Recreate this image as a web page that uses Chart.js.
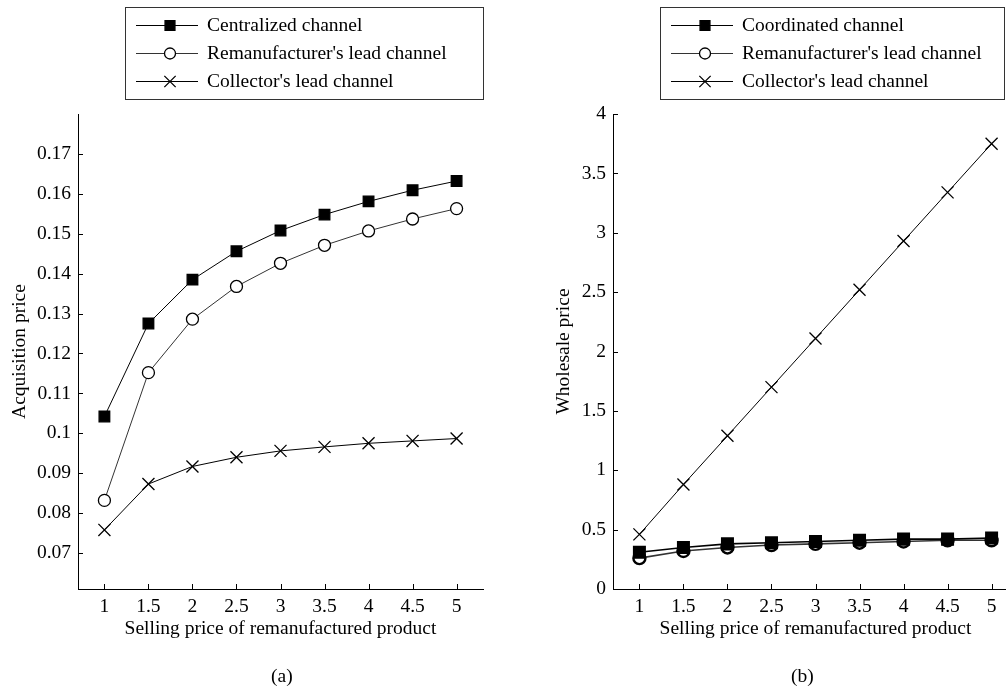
<!DOCTYPE html>
<html>
<head>
<meta charset="utf-8">
<script src="https://cdn.jsdelivr.net/npm/chart.js@4/dist/chart.umd.min.js"></script>
<style>
  html, body { margin: 0; padding: 0; background: #fff; overflow: hidden; width: 1006px; height: 691px; }
  canvas { position: absolute; top: 0; }
  #chart-a { left: 0; }
  #chart-b { left: 520px; }
  .caption { position: absolute; top: 665px; font: 19.5px 'Liberation Serif', serif; color: #000; }
</style>
</head>
<body>
<canvas id="chart-a" width="500" height="691"></canvas>
<canvas id="chart-b" width="520" height="691"></canvas>
<div class="caption" style="left:271px">(a)</div>
<div class="caption" style="left:791px">(b)</div>
<script>
// selling price of remanufactured product
const sellingPrice = [1, 1.5, 2, 2.5, 3, 3.5, 4, 4.5, 5];

// (a) acquisition price
const acqCentralized = [0.1042, 0.1275, 0.1385, 0.1456, 0.1508, 0.1548, 0.1581, 0.1609, 0.1632];
const acqRemanLead = [0.0832, 0.1152, 0.1286, 0.1368, 0.1426, 0.1471, 0.1507, 0.1537, 0.1563];
const acqCollectorLead = [0.0758, 0.0873, 0.0917, 0.0940, 0.0956, 0.0966, 0.0975, 0.0981, 0.0987];
const acqTicks = [0.07, 0.08, 0.09, 0.1, 0.11, 0.12, 0.13, 0.14, 0.15, 0.16, 0.17];

// (b) wholesale price
const wsCoordinated = [0.31, 0.35, 0.38, 0.39, 0.40, 0.41, 0.42, 0.42, 0.43];
const wsRemanLead = [0.26, 0.32, 0.35, 0.37, 0.38, 0.39, 0.40, 0.41, 0.41];
const wsCollectorLead = [0.46, 0.88, 1.29, 1.70, 2.11, 2.52, 2.93, 3.34, 3.75];
const wsTicks = [0, 0.5, 1, 1.5, 2, 2.5, 3, 3.5, 4];

const FONT = 'Liberation Serif';
const FSIZE = 19.5;

function toPoints(ys) {
    return sellingPrice.map((x, i) => ({ x: x, y: ys[i] }));
}

const markerStyles = [
    { pointStyle: 'rect', pointRadius: 7.5, pointBackgroundColor: '#000', pointBorderColor: '#000', borderColor: '#000' },
    { pointStyle: 'circle', pointRadius: 6, pointBackgroundColor: '#fff', pointBorderColor: '#000', borderColor: '#333' },
    { pointStyle: 'crossRot', pointRadius: 8.5, pointBackgroundColor: '#000', pointBorderColor: '#000', borderColor: '#000' }
];

// bold = heavier markers and lines for the two flat series (panel b)
function makeDatasets(labels, series, bold) {
    return series.map((ys, i) => Object.assign({
        label: labels[i],
        data: toPoints(ys),
        borderWidth: bold && i < 2 ? 1.6 : 1,
        pointBorderWidth: bold && i < 2 ? 2.4 : 1.3,
        tension: 0
    }, markerStyles[i]));
}

// inward tick marks
const innerTicks = {
    id: 'innerTicks',
    afterDraw(chart) {
        const ctx = chart.ctx;
        const { left, bottom } = chart.chartArea;
        ctx.save();
        ctx.strokeStyle = '#000';
        ctx.lineWidth = 1;
        ctx.beginPath();
        chart.scales.x.ticks.forEach(t => {
            const px = Math.round(chart.scales.x.getPixelForValue(t.value)) + 0.5;
            ctx.moveTo(px, bottom);
            ctx.lineTo(px, bottom - 5);
        });
        chart.scales.y.ticks.forEach(t => {
            const py = Math.round(chart.scales.y.getPixelForValue(t.value)) + 0.5;
            ctx.moveTo(left, py);
            ctx.lineTo(left + 5, py);
        });
        ctx.stroke();
        ctx.restore();
    }
};

// boxed legend with line + marker samples
const boxLegend = {
    id: 'boxLegend',
    afterDraw(chart, args, opts) {
        const ctx = chart.ctx;
        ctx.save();
        ctx.strokeStyle = '#333';
        ctx.lineWidth = 1;
        ctx.strokeRect(opts.x + 0.5, opts.y + 0.5, opts.w, opts.h);
        ctx.font = FSIZE + 'px "' + FONT + '"';
        ctx.textBaseline = 'middle';
        chart.data.datasets.forEach((ds, i) => {
            const y = opts.y + 18 + i * 28;
            ctx.strokeStyle = ds.borderColor;
            ctx.lineWidth = 1;
            ctx.beginPath();
            ctx.moveTo(opts.x + 11, y + 0.5);
            ctx.lineTo(opts.x + 73, y + 0.5);
            ctx.stroke();
            ctx.strokeStyle = '#000';
            ctx.fillStyle = ds.pointBackgroundColor;
            ctx.lineWidth = 1.3;
            const r = ds.pointStyle === 'rect' ? 7 : ds.pointStyle === 'circle' ? 5.5 : 8;
            Chart.helpers.drawPoint(ctx, { pointStyle: ds.pointStyle, radius: r, rotation: 0, borderWidth: 1.3 }, opts.x + 45, y + 0.5);
            ctx.fillStyle = '#000';
            ctx.fillText(ds.label, opts.x + 82, y + 1);
        });
        ctx.restore();
    }
};

function buildChart(canvasId, labels, series, bold, yTitle, yTicks, yMin, yMax, yWidth, yTitlePad, padRight, legendBox) {
    const ctx = document.getElementById(canvasId).getContext('2d');
    return new Chart(ctx, {
        type: 'line',
        data: { datasets: makeDatasets(labels, series, bold) },
        options: {
            responsive: false,
            animation: false,
            devicePixelRatio: 1,
            layout: { padding: { top: 114, bottom: 50, left: 0, right: padRight } },
            plugins: {
                legend: { display: false },
                tooltip: { enabled: false },
                boxLegend: legendBox
            },
            scales: {
                x: {
                    type: 'linear',
                    min: 0.7,
                    max: 5.3,
                    afterBuildTicks: s => { s.ticks = sellingPrice.map(v => ({ value: v })); },
                    afterFit: s => { s.height = 52; },
                    grid: { display: false, drawTicks: false },
                    border: { display: true, color: '#000', width: 1 },
                    ticks: {
                        color: '#000',
                        padding: 6,
                        maxRotation: 0,
                        font: { family: FONT, size: FSIZE },
                        callback: v => String(v)
                    },
                    title: {
                        display: true,
                        text: 'Selling price of remanufactured product',
                        color: '#000',
                        padding: { top: 0, bottom: 0 },
                        font: { family: FONT, size: FSIZE }
                    }
                },
                y: {
                    type: 'linear',
                    min: yMin,
                    max: yMax,
                    afterBuildTicks: s => { s.ticks = yTicks.map(v => ({ value: v })); },
                    afterFit: s => { s.width = yWidth; },
                    grid: { display: false, drawTicks: false },
                    border: { display: true, color: '#000', width: 1 },
                    ticks: {
                        color: '#000',
                        padding: 7,
                        font: { family: FONT, size: FSIZE },
                        callback: v => String(v)
                    },
                    title: {
                        display: true,
                        text: yTitle,
                        color: '#000',
                        padding: { top: yTitlePad, bottom: 0 },
                        font: { family: FONT, size: FSIZE }
                    }
                }
            }
        },
        plugins: [innerTicks, boxLegend]
    });
}

buildChart('chart-a',
    ['Centralized channel', "Remanufacturer's lead channel", "Collector's lead channel"],
    [acqCentralized, acqRemanLead, acqCollectorLead], false,
    'Acquisition price', acqTicks, 0.061, 0.18, 78, 8, 17,
    { x: 125, y: 7, w: 358, h: 92 });

buildChart('chart-b',
    ['Coordinated channel', "Remanufacturer's lead channel", "Collector's lead channel"],
    [wsCoordinated, wsRemanLead, wsCollectorLead], true,
    'Wholesale price', wsTicks, 0, 4, 93, 32, 22,
    { x: 140, y: 7, w: 344, h: 92 });
</script>
</body>
</html>
